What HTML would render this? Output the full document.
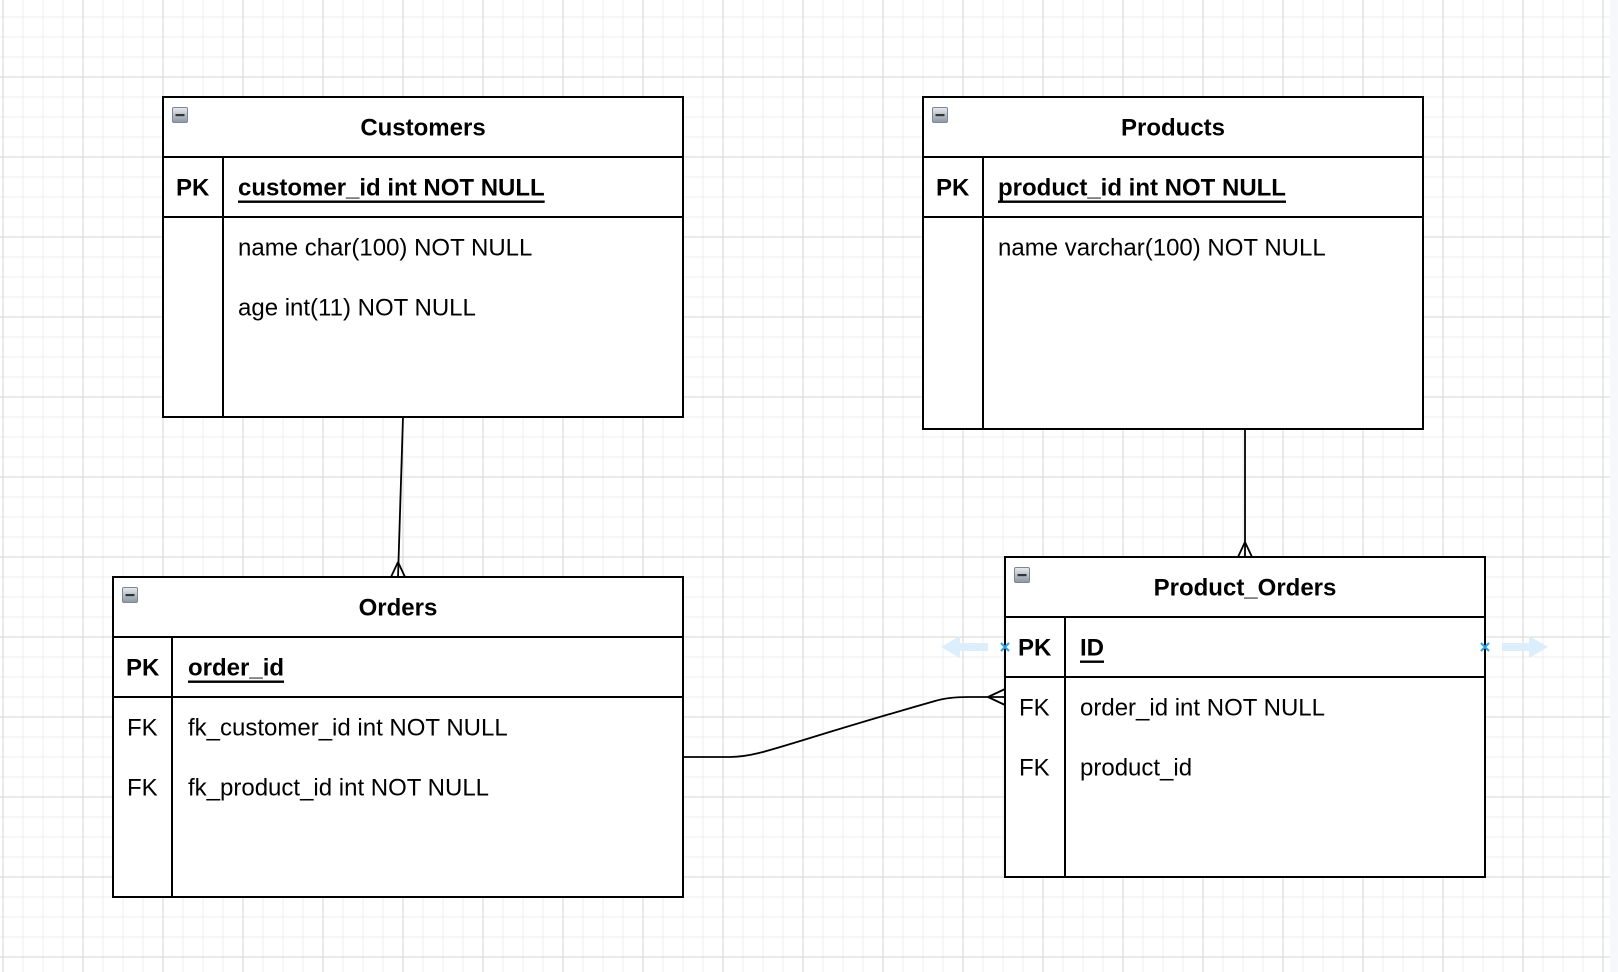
<!DOCTYPE html>
<html><head><meta charset="utf-8"><style>
html,body{margin:0;padding:0;background:#fff;}
svg{display:block;}
text{font-family:"Liberation Sans",Arial,sans-serif;font-size:24px;fill:#000;dominant-baseline:central;}
.b{font-weight:bold;}
.u{text-decoration:underline;}
</style></head><body>
<svg width="1618" height="972" viewBox="0 0 1618 972" xmlns="http://www.w3.org/2000/svg">
<defs>
<pattern id="minor" width="20" height="20" patternUnits="userSpaceOnUse" x="2.5" y="16.5">
<path d="M0 0.5H20M0.5 0V20" stroke="#efefef" stroke-width="1" fill="none"/>
</pattern>
<pattern id="major" width="80" height="80" patternUnits="userSpaceOnUse" x="2.5" y="-3.5">
<path d="M0 0.5H80M0.5 0V80" stroke="#d4d4d4" stroke-width="1" fill="none"/>
</pattern>
<linearGradient id="ig" x1="0" y1="0" x2="0" y2="1"><stop offset="0" stop-color="#e8ecf0"/><stop offset="1" stop-color="#8a96a3"/></linearGradient>
<g id="icon"><rect x="0.5" y="0.5" width="15" height="15" rx="1.5" fill="url(#ig)" stroke="#7d8791"/><rect x="3.5" y="7" width="9" height="2.2" fill="#333"/></g>
</defs>
<rect width="1618" height="972" fill="#fff"/>
<rect x="0" y="0" width="1610" height="972" fill="url(#minor)"/>
<rect x="0" y="0" width="1610" height="972" fill="url(#major)"/>
<rect x="1610" y="0" width="8" height="972" fill="#f6f8fb"/>

<g fill="#fff" stroke="#000" stroke-width="2">
<rect x="163" y="97" width="520" height="320"/>
<rect x="923" y="97" width="500" height="332"/>
<rect x="113" y="577" width="570" height="320"/>
<rect x="1005" y="557" width="480" height="320"/>
</g>
<g stroke="#000" stroke-width="2" fill="none">
<path d="M163 157H683M163 217H683M223 157V417"/>
<path d="M923 157H1423M923 217H1423M983 157V429"/>
<path d="M113 637H683M113 697H683M172 637V897"/>
<path d="M1005 617H1485M1005 677H1485M1065 617V877"/>
<path d="M403 417L398 577" stroke-width="1.8"/>
<path d="M398 562L391 577M398 562L405 577" stroke-width="1.8"/>
<path d="M1245 429V557" stroke-width="1.8"/>
<path d="M1245 542L1238 557M1245 542L1252 557" stroke-width="1.8"/>
<path d="M683 757H730C760 757 780 745 935 701C945 698 955 697 968 697H1005" stroke-width="1.8"/>
<path d="M988 697L1005 689M988 697L1005 705" stroke-width="1.8"/>
</g>

<use href="#icon" x="172" y="107"/>
<use href="#icon" x="932" y="107"/>
<use href="#icon" x="122" y="587"/>
<use href="#icon" x="1014" y="567"/>

<text class="b" x="423" y="128" text-anchor="middle">Customers</text>
<text class="b" x="176" y="188">PK</text>
<text class="b u" x="238" y="188">customer_id int NOT NULL</text>
<text x="238" y="248">name char(100) NOT NULL</text>
<text x="238" y="308">age int(11) NOT NULL</text>

<text class="b" x="1173" y="128" text-anchor="middle">Products</text>
<text class="b" x="936" y="188">PK</text>
<text class="b u" x="998" y="188">product_id int NOT NULL</text>
<text x="998" y="248">name varchar(100) NOT NULL</text>

<text class="b" x="398" y="608" text-anchor="middle">Orders</text>
<text class="b" x="126" y="668">PK</text>
<text class="b u" x="188" y="668">order_id</text>
<text x="127" y="728">FK</text>
<text x="188" y="728">fk_customer_id int NOT NULL</text>
<text x="127" y="788">FK</text>
<text x="188" y="788">fk_product_id int NOT NULL</text>

<text class="b" x="1245" y="588" text-anchor="middle">Product_Orders</text>
<text class="b" x="1018" y="648">PK</text>
<text class="b u" x="1080" y="648">ID</text>
<text x="1019" y="708">FK</text>
<text x="1080" y="708">order_id int NOT NULL</text>
<text x="1019" y="768">FK</text>
<text x="1080" y="768">product_id</text>

<path d="M941 647L960 636V643H988V651H960V658Z" fill="#dcedfb"/>
<path d="M1548 647L1529 636V643H1502V651H1529V658Z" fill="#dcedfb"/>
<g stroke="#29a3e8" stroke-width="2">
<path d="M1001 643L1009 651M1009 643L1001 651"/>
<path d="M1481 643L1489 651M1489 643L1481 651"/>
</g>
</svg>
</body></html>
